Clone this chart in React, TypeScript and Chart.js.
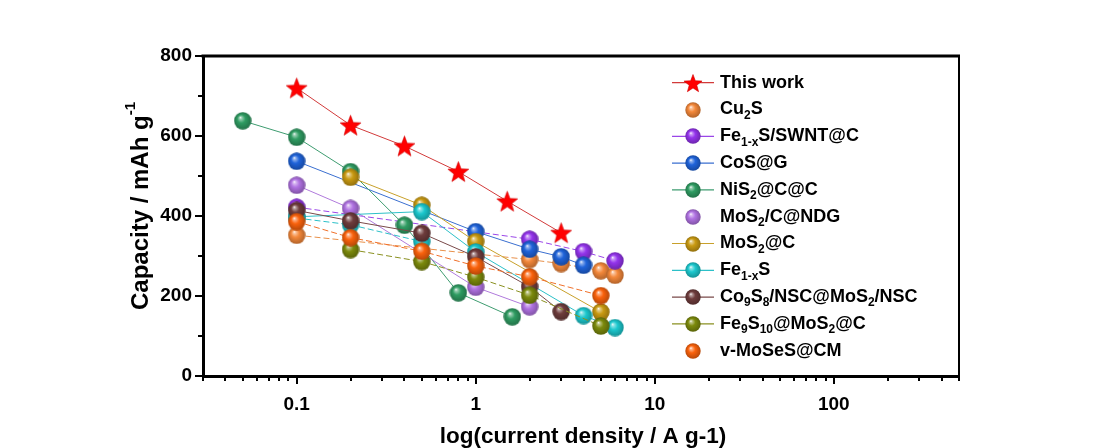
import React, { useEffect, useRef } from 'react';
import { Chart, registerables } from 'chart.js';

Chart.register(...registerables);

// ---------- data ----------
const thisWorkX = [0.1, 0.2, 0.4, 0.8, 1.5, 3];
const thisWorkY = [720, 627, 575, 511, 437, 358];

const cu2sX = [0.1, 2, 3, 5, 6];
const cu2sY = [352, 291, 281, 263, 252];

const feSwntX = [0.1, 2, 4, 6];
const feSwntY = [422, 342, 311, 288];

const cosGX = [0.1, 1, 2, 3, 4];
const cosGY = [537, 361, 317, 298, 277];

const nis2X = [0.05, 0.1, 0.2, 0.4, 0.8, 1.6];
const nis2Y = [638, 597, 511, 377, 208, 148];

const mos2NdgX = [0.1, 0.2, 1, 2];
const mos2NdgY = [477, 419, 222, 173];

const mos2CX = [0.2, 0.5, 1, 5];
const mos2CY = [497, 427, 336, 160];

const fe1xsX = [0.1, 0.5, 1, 4, 6];
const fe1xsY = [398, 411, 310, 151, 121];

const fe1xsBX = [0.1, 0.2, 0.5];
const fe1xsBY = [395, 378, 336];

const co9s8X = [0.1, 0.2, 0.5, 1, 2, 3];
const co9s8Y = [414, 388, 357, 298, 223, 161];

const fe9s10X = [0.2, 0.5, 1, 2, 5];
const fe9s10Y = [316, 286, 247, 202, 125];

const moSeSX = [0.1, 0.2, 0.5, 1, 2, 5];
const moSeSY = [386, 346, 312, 275, 248, 201];

const xTickValues = [0.1, 1, 10, 100];
const yTickValues = [0, 200, 400, 600, 800];
const yMinorValues = [100, 300, 500, 700];

const FONT = "'Liberation Sans', Arial, Helvetica, sans-serif";

type Part = [string, boolean];
interface Series {
  label: string;
  parts: Part[] | null;
  x: number[];
  y: number[];
  color: string;
  line: string;
  dash: number[];
  marker: 'star' | 'ball';
  legendLine: boolean;
}

const seriesList: Series[] = [
  { label: 'This work', parts: [['This work', false]], x: thisWorkX, y: thisWorkY, color: '#FF0000', line: '#D23A3A', dash: [], marker: 'star', legendLine: true },
  { label: 'Cu2S', parts: [['Cu', false], ['2', true], ['S', false]], x: cu2sX, y: cu2sY, color: '#F4883A', line: '#E8904A', dash: [6, 3], marker: 'ball', legendLine: false },
  { label: 'Fe1-xS/SWNT@C', parts: [['Fe', false], ['1-x', true], ['S/SWNT@C', false]], x: feSwntX, y: feSwntY, color: '#9434EC', line: '#9A46E8', dash: [6, 3], marker: 'ball', legendLine: true },
  { label: 'CoS@G', parts: [['CoS@G', false]], x: cosGX, y: cosGY, color: '#1F63DA', line: '#3A6FD0', dash: [], marker: 'ball', legendLine: true },
  { label: 'NiS2@C@C', parts: [['NiS', false], ['2', true], ['@C@C', false]], x: nis2X, y: nis2Y, color: '#2F9C62', line: '#3E9C70', dash: [], marker: 'ball', legendLine: true },
  { label: 'MoS2/C@NDG', parts: [['MoS', false], ['2', true], ['/C@NDG', false]], x: mos2NdgX, y: mos2NdgY, color: '#B072E2', line: '#B07ADC', dash: [], marker: 'ball', legendLine: false },
  { label: 'MoS2@C', parts: [['MoS', false], ['2', true], ['@C', false]], x: mos2CX, y: mos2CY, color: '#C99A12', line: '#C8A02A', dash: [], marker: 'ball', legendLine: true },
  { label: 'Fe1-xS', parts: [['Fe', false], ['1-x', true], ['S', false]], x: fe1xsX, y: fe1xsY, color: '#1CC8CE', line: '#2CC0C8', dash: [], marker: 'ball', legendLine: true },
  { label: 'Fe1-xS (b)', parts: null, x: fe1xsBX, y: fe1xsBY, color: '#1CC8CE', line: '#2CC0C8', dash: [6, 3], marker: 'ball', legendLine: true },
  { label: 'Co9S8/NSC@MoS2/NSC', parts: [['Co', false], ['9', true], ['S', false], ['8', true], ['/NSC@MoS', false], ['2', true], ['/NSC', false]], x: co9s8X, y: co9s8Y, color: '#6E3C3C', line: '#7A4A4A', dash: [], marker: 'ball', legendLine: true },
  { label: 'Fe9S10@MoS2@C', parts: [['Fe', false], ['9', true], ['S', false], ['10', true], ['@MoS', false], ['2', true], ['@C', false]], x: fe9s10X, y: fe9s10Y, color: '#7C8A0C', line: '#8A9020', dash: [6, 3], marker: 'ball', legendLine: true },
  { label: 'v-MoSeS@CM', parts: [['v-MoSeS@CM', false]], x: moSeSX, y: moSeSY, color: '#FA620C', line: '#F0702A', dash: [6, 3], marker: 'ball', legendLine: false },
];

// ---------- marker images ----------
function hexToRgb(h: string): number[] {
  const v = h.replace('#', '');
  return [0, 2, 4].map((i) => parseInt(v.slice(i, i + 2), 16));
}
function mix(a: string, b: string, t: number): string {
  const A = hexToRgb(a);
  const B = hexToRgb(b);
  const c = A.map((x, i) => Math.round(x * (1 - t) + B[i] * t));
  return `rgb(${c[0]},${c[1]},${c[2]})`;
}
function makeBall(color: string, d: number): HTMLCanvasElement {
  const c = document.createElement('canvas');
  c.width = d;
  c.height = d;
  const ctx = c.getContext('2d')!;
  const r = d / 2;
  const g = ctx.createRadialGradient(r * 0.72, r * 0.62, 0, r, r, r);
  g.addColorStop(0, '#ffffff');
  g.addColorStop(0.15, mix(color, '#ffffff', 0.5));
  g.addColorStop(0.45, color);
  g.addColorStop(1, mix(color, '#000000', 0.28));
  ctx.fillStyle = g;
  ctx.beginPath();
  ctx.arc(r, r, r - 0.3, 0, Math.PI * 2);
  ctx.fill();
  return c;
}
function makeStar(color: string, d: number): HTMLCanvasElement {
  const c = document.createElement('canvas');
  c.width = d;
  c.height = d;
  const ctx = c.getContext('2d')!;
  const r = d / 2;
  const ro = r - 0.5;
  const ri = ro * 0.42;
  ctx.beginPath();
  for (let i = 0; i < 10; i++) {
    const rad = i % 2 === 0 ? ro : ri;
    const ang = -Math.PI / 2 + (i * Math.PI) / 5;
    const px = r + rad * Math.cos(ang);
    const py = r + 1 + rad * Math.sin(ang);
    if (i === 0) ctx.moveTo(px, py);
    else ctx.lineTo(px, py);
  }
  ctx.closePath();
  ctx.fillStyle = color;
  ctx.fill();
  ctx.strokeStyle = '#D00000';
  ctx.lineWidth = 0.6;
  ctx.stroke();
  return c;
}
function makeMarker(s: Series, d: number, starD: number): HTMLCanvasElement {
  return s.marker === 'star' ? makeStar(s.color, starD) : makeBall(s.color, d);
}

function drawRich(ctx: CanvasRenderingContext2D, parts: Part[], x: number, y: number, size: number, subSize: number, subOff: number) {
  let cx = x;
  for (const [t, sub] of parts) {
    ctx.font = `bold ${sub ? subSize : size}px ${FONT}`;
    ctx.fillText(t, cx, sub ? y + subOff : y);
    cx += ctx.measureText(t).width;
  }
}

export default function App() {
  const ref = useRef<HTMLCanvasElement>(null);

  useEffect(() => {
    document.body.style.margin = '0';
    const canvas = ref.current!;
    const plotMarkers = seriesList.map((s) => makeMarker(s, 18, 23));
    const legendMarkers = seriesList.map((s) => makeMarker(s, 16, 20));
    const n = seriesList.length;

    const datasets = seriesList.map((s, i) => ({
      label: s.label,
      data: s.x.map((xv, k) => ({ x: xv, y: s.y[k] })),
      showLine: true,
      borderColor: s.line,
      backgroundColor: s.color,
      borderWidth: 1,
      borderDash: s.dash,
      pointStyle: plotMarkers[i],
      pointRadius: 9,
      pointHoverRadius: 9,
      tension: 0,
      order: n - i,
      clip: false as any,
    }));

    const decor = {
      id: 'decor',
      afterDraw(chart: any) {
        const { ctx, chartArea: a, scales } = chart;
        const xs = scales.x;
        const ys = scales.y;
        ctx.save();
        ctx.strokeStyle = '#000';
        ctx.lineCap = 'butt';
        // top & right frame
        ctx.lineWidth = 3;
        ctx.beginPath();
        ctx.moveTo(a.left - 1.5, a.top);
        ctx.lineTo(a.right + 1, a.top);
        ctx.stroke();
        ctx.lineWidth = 2;
        ctx.beginPath();
        ctx.moveTo(a.right, a.top);
        ctx.lineTo(a.right, a.bottom);
        ctx.stroke();
        // x ticks
        ctx.lineWidth = 2;
        for (let e = -2; e <= 2; e++) {
          for (let k = 1; k <= 9; k++) {
            const v = k * Math.pow(10, e);
            if (v < xs.min * 0.999 || v > xs.max * 1.001) continue;
            const px = Math.round(xs.getPixelForValue(v));
            const len = k === 1 ? 8 : 5;
            ctx.beginPath();
            ctx.moveTo(px, a.bottom);
            ctx.lineTo(px, a.bottom + len);
            ctx.stroke();
          }
        }
        // y ticks
        for (const v of yTickValues) {
          const py = Math.round(ys.getPixelForValue(v));
          ctx.beginPath();
          ctx.moveTo(a.left, py);
          ctx.lineTo(a.left - 8, py);
          ctx.stroke();
        }
        for (const v of yMinorValues) {
          const py = Math.round(ys.getPixelForValue(v));
          ctx.beginPath();
          ctx.moveTo(a.left, py);
          ctx.lineTo(a.left - 5, py);
          ctx.stroke();
        }
        // axis titles
        ctx.fillStyle = '#000';
        ctx.textBaseline = 'middle';
        ctx.font = `bold 22.5px ${FONT}`;
        ctx.textAlign = 'center';
        ctx.fillText('log(current density / A g-1)', (a.left + a.right) / 2 + 2, 437);
        ctx.textAlign = 'left';
        ctx.save();
        ctx.translate(141, 206);
        ctx.rotate(-Math.PI / 2);
        const main = 'Capacity / mAh g';
        ctx.font = `bold 24px ${FONT}`;
        const w1 = ctx.measureText(main).width;
        ctx.font = `bold 15px ${FONT}`;
        const w2 = ctx.measureText('-1').width;
        const sx = -(w1 + w2) / 2;
        ctx.font = `bold 24px ${FONT}`;
        ctx.fillText(main, sx, 0);
        ctx.font = `bold 15px ${FONT}`;
        ctx.fillText('-1', sx + w1, -10);
        ctx.restore();
        // legend
        let row = 0;
        seriesList.forEach((s, i) => {
          if (!s.parts) return;
          const y = 82.7 + row * 26.8;
          row++;
          if (s.legendLine) {
            ctx.strokeStyle = s.line;
            ctx.lineWidth = 1.2;
            ctx.setLineDash([]);
            ctx.beginPath();
            ctx.moveTo(672, y);
            ctx.lineTo(714, y);
            ctx.stroke();
          }
          const img = legendMarkers[i];
          ctx.drawImage(img, Math.round(693 - img.width / 2), Math.round(y - img.height / 2));
          ctx.fillStyle = '#000';
          ctx.textBaseline = 'middle';
          drawRich(ctx, s.parts, 720, y, 18, 12, 6);
        });
        ctx.restore();
      },
    };

    const chart = new Chart(canvas, {
      type: 'scatter',
      data: { datasets: datasets as any },
      options: {
        animation: false,
        responsive: false,
        devicePixelRatio: 1,
        events: [],
        layout: { padding: { left: 0, right: 141, top: 56, bottom: 0 } },
        plugins: { legend: { display: false }, tooltip: { enabled: false } },
        scales: {
          x: {
            type: 'logarithmic',
            min: 0.03,
            max: 500,
            afterBuildTicks: (scale: any) => {
              scale.ticks = xTickValues.map((v) => ({ value: v }));
            },
            afterFit: (scale: any) => {
              scale.height = 72;
            },
            ticks: {
              callback: (v: any) => String(v),
              color: '#000',
              font: { family: FONT, size: 19, weight: 'bold' },
              padding: 17,
              maxRotation: 0,
              autoSkip: false,
            },
            grid: { display: false, drawTicks: false },
            border: { display: true, color: '#000', width: 3 },
          },
          y: {
            type: 'linear',
            min: 0,
            max: 800,
            afterBuildTicks: (scale: any) => {
              scale.ticks = yTickValues.map((v) => ({ value: v }));
            },
            afterFit: (scale: any) => {
              scale.width = 203;
            },
            ticks: {
              color: '#000',
              font: { family: FONT, size: 19, weight: 'bold' },
              padding: 11,
            },
            grid: { display: false, drawTicks: false },
            border: { display: true, color: '#000', width: 3 },
          },
        },
      },
      plugins: [decor],
    } as any);

    return () => chart.destroy();
  }, []);

  return (
    <div style={{ position: 'fixed', left: 0, top: 0, width: 1100, height: 448, background: '#fff' }}>
      <canvas ref={ref} width={1100} height={448} style={{ width: 1100, height: 448, display: 'block' }} />
    </div>
  );
}
